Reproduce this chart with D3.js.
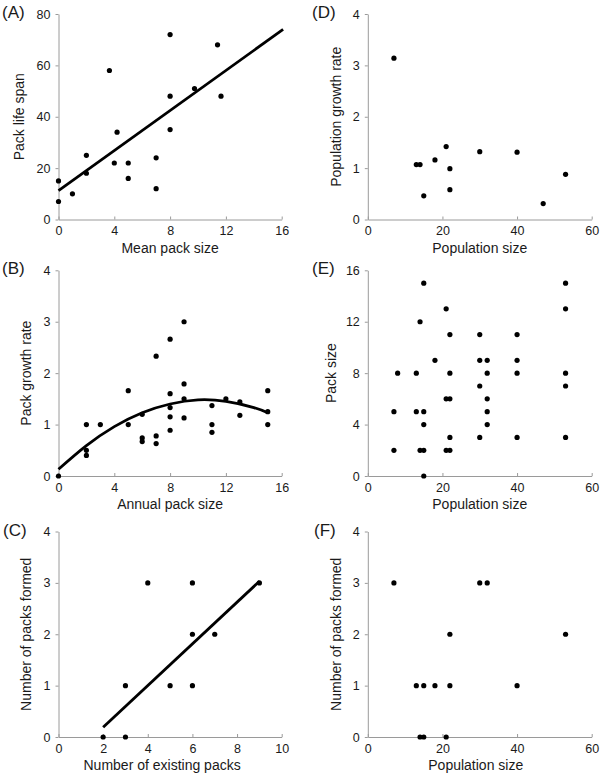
<!DOCTYPE html>
<html>
<head>
<meta charset="utf-8">
<script src="https://cdn.jsdelivr.net/npm/d3@7"></script>
<style>
  html, body { margin: 0; padding: 0; background: #fff; }
  svg { display: block; font-family: "Liberation Sans", Arial, Helvetica, sans-serif; }
</style>
</head>
<body>
<svg id="chart" width="600" height="776"></svg>
<script>
// ---------- DATA ----------
// (A) Mean pack size vs Pack life span
const aX = [0, 0, 1, 2, 2, 3.65, 4.2, 4, 5, 5, 7, 7, 8, 8, 8, 9.75, 11.4, 11.65];
const aY = [15, 7, 10, 25, 18, 58, 34, 22, 22, 16, 24, 12, 72, 48, 35, 51, 68, 48];
const aFitX = [0, 16.1];
const aFitY = [11.2, 74];
const aXTicks = [0, 4, 8, 12, 16];
const aYTicks = [0, 20, 40, 60, 80];

// (B) Annual pack size vs Pack growth rate
const bX = [0, 2, 2, 2, 3, 5, 5, 6, 6, 6, 7, 7, 7, 8, 8, 8, 8, 8, 9, 9, 9, 9, 11, 11, 11, 12, 13, 13, 15, 15, 15];
const bY = [0, 1.0, 0.5, 0.4, 1.0, 1.66, 1.0, 1.2, 0.74, 0.67, 2.33, 0.78, 0.63, 2.66, 1.6, 1.33, 1.15, 0.89, 3.0, 1.79, 1.5, 1.13, 1.37, 1.0, 0.85, 1.5, 1.44, 1.18, 1.66, 1.25, 1.0];
const bFitX = [0, 2, 4, 6, 8, 10, 12, 14, 15];
const bFitY = [0.13, 0.59, 0.96, 1.23, 1.40, 1.48, 1.45, 1.33, 1.23];
const bXTicks = [0, 4, 8, 12, 16];
const bYTicks = [0, 1, 2, 3, 4];

// (C) Number of existing packs vs Number of packs formed
const cX = [2, 3, 3, 4, 5, 6, 6, 6, 7, 9];
const cY = [0, 0, 1, 3, 1, 3, 2, 1, 2, 3];
const cFitX = [2, 9];
const cFitY = [0.19, 3.03];
const cXTicks = [0, 2, 4, 6, 8, 10];
const cYTicks = [0, 1, 2, 3, 4];

// (D) Population size vs Population growth rate
const dX = [7, 13, 14, 15, 18, 21, 22, 22, 30, 40, 47, 53];
const dY = [3.14, 1.07, 1.07, 0.46, 1.16, 1.42, 0.99, 0.58, 1.32, 1.31, 0.31, 0.88];
const dXTicks = [0, 20, 40, 60];
const dYTicks = [0, 1, 2, 3, 4];

// (E) Population size vs Pack size
const eX = [7, 7, 8, 13, 13, 14, 14, 15, 15, 15, 15, 15, 18, 21, 21, 21, 22, 22, 22, 22, 22, 30, 30, 30, 30, 32, 32, 32, 32, 32, 40, 40, 40, 40, 53, 53, 53, 53, 53];
const eY = [5, 2, 8, 8, 5, 12, 2, 15, 5, 4, 2, 0, 9, 13, 6, 2, 11, 8, 6, 3, 2, 11, 9, 7, 3, 9, 8, 6, 5, 4, 11, 9, 8, 3, 15, 13, 8, 7, 3];
const eXTicks = [0, 20, 40, 60];
const eYTicks = [0, 4, 8, 12, 16];

// (F) Population size vs Number of packs formed
const fX = [7, 13, 15, 18, 22, 22, 14, 15, 21, 30, 32, 40, 53];
const fY = [3, 1, 1, 1, 2, 1, 0, 0, 0, 3, 3, 1, 2];
const fXTicks = [0, 20, 40, 60];
const fYTicks = [0, 1, 2, 3, 4];

// ---------- LAYOUT ----------
const svg = d3.select("#chart");
const cols = [{x0: 58.5, x1: 281.7}, {x0: 367.8, x1: 591.7}];
const rows = [{y0: 14, y1: 219.5}, {y0: 270.3, y1: 476}, {y0: 531.5, y1: 737}];
const axisColor = "#9a9a9a";

const panels = [
  {label: "(A)", col: 0, row: 0, xs: aX, ys: aY, xT: aXTicks, yT: aYTicks, xTitle: "Mean pack size", yTitle: "Pack life span",
   fit: {x: aFitX, y: aFitY, curve: d3.curveLinear}, yTitleOff: -35, xTitleDx: 0, labelX: 2},
  {label: "(B)", col: 0, row: 1, xs: bX, ys: bY, xT: bXTicks, yT: bYTicks, xTitle: "Annual pack size", yTitle: "Pack growth rate",
   fit: {x: bFitX, y: bFitY, curve: d3.curveNatural}, yTitleOff: -28, xTitleDx: 0, labelX: 2},
  {label: "(C)", col: 0, row: 2, xs: cX, ys: cY, xT: cXTicks, yT: cYTicks, xTitle: "Number of existing packs", yTitle: "Number of packs formed",
   fit: {x: cFitX, y: cFitY, curve: d3.curveLinear}, yTitleOff: -28, xTitleDx: -8, labelX: 3},
  {label: "(D)", col: 1, row: 0, xs: dX, ys: dY, xT: dXTicks, yT: dYTicks, xTitle: "Population size", yTitle: "Population growth rate",
   fit: null, yTitleOff: -27, xTitleDx: 0, labelX: 312},
  {label: "(E)", col: 1, row: 1, xs: eX, ys: eY, xT: eXTicks, yT: eYTicks, xTitle: "Population size", yTitle: "Pack size",
   fit: null, yTitleOff: -32, xTitleDx: 0, labelX: 312},
  {label: "(F)", col: 1, row: 2, xs: fX, ys: fY, xT: fXTicks, yT: fYTicks, xTitle: "Population size", yTitle: "Number of packs formed",
   fit: null, yTitleOff: -27, xTitleDx: -4, labelX: 314}
];

panels.forEach(p => {
  const c = cols[p.col], r = rows[p.row];
  const x = d3.scaleLinear().domain([p.xT[0], p.xT[p.xT.length - 1]]).range([c.x0, c.x1]);
  const y = d3.scaleLinear().domain([p.yT[0], p.yT[p.yT.length - 1]]).range([r.y1, r.y0]);
  const g = svg.append("g");

  // x axis
  const gx = g.append("g").attr("transform", `translate(0,${r.y1})`)
    .call(d3.axisBottom(x).tickValues(p.xT).tickSize(-3).tickSizeOuter(0).tickPadding(7).tickFormat(d3.format("d")));
  // y axis
  const gy = g.append("g").attr("transform", `translate(${c.x0},0)`)
    .call(d3.axisLeft(y).tickValues(p.yT).tickSize(3).tickSizeOuter(0).tickPadding(5).tickFormat(d3.format("d")));
  [gx, gy].forEach(a => {
    a.select(".domain").attr("stroke", axisColor).attr("stroke-width", 1);
    a.selectAll(".tick line").attr("stroke", axisColor);
    a.selectAll(".tick text").attr("fill", "#1a1a1a").style("font-size", "12.5px").style("font-family", "'Liberation Sans', Arial, sans-serif");
  });

  // fit line
  if (p.fit) {
    const pts = p.fit.x.map((v, i) => [v, p.fit.y[i]]);
    g.append("path")
      .datum(pts)
      .attr("fill", "none")
      .attr("stroke", "#000")
      .attr("stroke-width", 2.8)
      .attr("d", d3.line().x(d => x(d[0])).y(d => y(d[1])).curve(p.fit.curve));
  }

  // points
  g.append("g").selectAll("circle")
    .data(p.xs.map((v, i) => [v, p.ys[i]]))
    .join("circle")
    .attr("cx", d => x(d[0]))
    .attr("cy", d => y(d[1]))
    .attr("r", 2.6)
    .attr("fill", "#000");

  // axis titles
  g.append("text")
    .attr("x", (c.x0 + c.x1) / 2 + p.xTitleDx)
    .attr("y", r.y1 + 33)
    .attr("text-anchor", "middle")
    .style("font-size", "14px")
    .attr("fill", "#1a1a1a")
    .text(p.xTitle);

  g.append("text")
    .attr("transform", `translate(${c.x0 + p.yTitleOff},${(r.y0 + r.y1) / 2}) rotate(-90)`)
    .attr("text-anchor", "middle")
    .style("font-size", "14px")
    .attr("fill", "#1a1a1a")
    .text(p.yTitle);

  // panel label
  g.append("text")
    .attr("x", p.labelX)
    .attr("y", r.y0 + 4)
    .style("font-size", "17px")
    .attr("fill", "#1a1a1a")
    .text(p.label);
});
</script>
</body>
</html>
